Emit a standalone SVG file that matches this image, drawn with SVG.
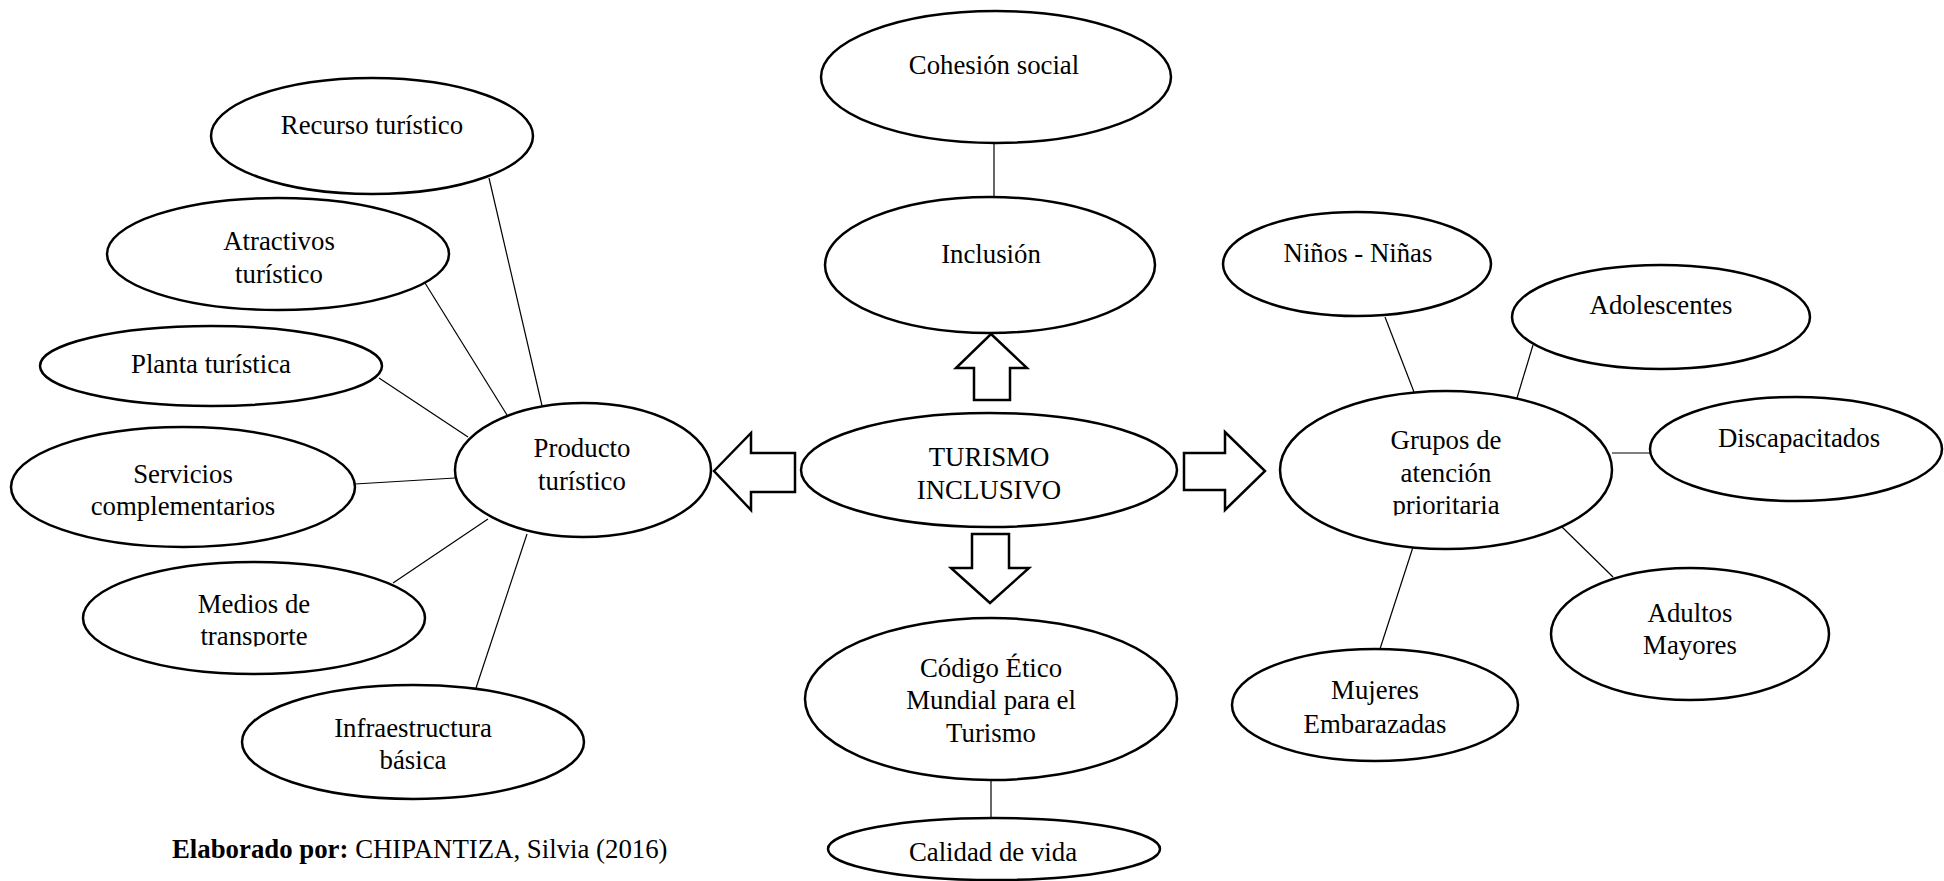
<svg xmlns="http://www.w3.org/2000/svg" width="1944" height="881" viewBox="0 0 1944 881">
<style>
.n{fill:#fff;stroke:#000;stroke-width:2.5}
.c line{stroke:#000;stroke-width:1.2}
.a{fill:#fff;stroke:#000;stroke-width:2.5;stroke-linejoin:miter}
text{font-family:"Liberation Serif","Times New Roman",serif;font-size:26.8px;fill:#000;text-anchor:middle}
.cap{text-anchor:start}
</style>
<defs>
<clipPath id="clipMedios"><rect x="80" y="560" width="350" height="86.5"/></clipPath>
<clipPath id="clipGrupos"><rect x="1280" y="390" width="335" height="125.5"/></clipPath>
</defs>
<rect width="1944" height="881" fill="#fff"/>
<g id="connectors" class="c">
<line x1="489" y1="178" x2="543" y2="410"/>
<line x1="425" y1="283" x2="507" y2="415"/>
<line x1="379" y1="378" x2="468" y2="437"/>
<line x1="355" y1="484" x2="455" y2="478"/>
<line x1="393" y1="583" x2="488" y2="519"/>
<line x1="476" y1="688" x2="527" y2="534"/>
<line x1="994" y1="143" x2="994" y2="197"/>
<line x1="991" y1="780" x2="991" y2="818"/>
<line x1="1385" y1="317" x2="1414" y2="392"/>
<line x1="1533" y1="345" x2="1517" y2="398"/>
<line x1="1612" y1="453" x2="1650" y2="453"/>
<line x1="1562" y1="527" x2="1613" y2="577"/>
<line x1="1414" y1="544" x2="1379" y2="652"/>
<polygon class="a" points="991,334 1027,368 1010,368 1010,400 974,400 974,368 956,368"/>
<polygon class="a" points="972,534 1009,534 1009,568 1029,568 990,603 951,568 972,568"/>
<polygon class="a" points="714,471 751,433 751,453 795,453 795,492 751,492 751,510"/>
<polygon class="a" points="1184,453 1225,453 1225,432 1265,471 1225,510 1225,490 1184,490"/>
</g>
<g id="recurso"><ellipse class="n" cx="372" cy="136" rx="161" ry="58"/><text x="372" y="134">Recurso turístico</text></g>
<g id="atractivos"><ellipse class="n" cx="278" cy="254" rx="171" ry="56"/><text x="279" y="250">Atractivos</text><text x="279" y="283">turístico</text></g>
<g id="planta"><ellipse class="n" cx="211" cy="366" rx="171" ry="40"/><text x="211" y="373">Planta turística</text></g>
<g id="servicios"><ellipse class="n" cx="183" cy="487" rx="172" ry="60"/><text x="183" y="483">Servicios</text><text x="183" y="515">complementarios</text></g>
<g id="medios"><ellipse class="n" cx="254" cy="618" rx="171" ry="56"/><g clip-path="url(#clipMedios)"><text x="254" y="613">Medios de</text><text x="254" y="645">transporte</text></g></g>
<g id="infraestructura"><ellipse class="n" cx="413" cy="742" rx="171" ry="57"/><text x="413" y="737">Infraestructura</text><text x="413" y="769">básica</text></g>
<g id="producto"><ellipse class="n" cx="583" cy="470" rx="128" ry="67"/><text x="582" y="457">Producto</text><text x="582" y="490">turístico</text></g>
<g id="cohesion"><ellipse class="n" cx="996" cy="77" rx="175" ry="66"/><text x="994" y="74">Cohesión social</text></g>
<g id="inclusion"><ellipse class="n" cx="990" cy="265" rx="165" ry="68"/><text x="991" y="263">Inclusión</text></g>
<g id="turismo"><ellipse class="n" cx="989" cy="470" rx="188" ry="57"/><text x="989" y="466">TURISMO</text><text x="989" y="499">INCLUSIVO</text></g>
<g id="codigo"><ellipse class="n" cx="991" cy="699" rx="186" ry="81"/><text x="991" y="677">Código Ético</text><text x="991" y="709">Mundial para el</text><text x="991" y="742">Turismo</text></g>
<g id="calidad"><ellipse class="n" cx="994" cy="849" rx="166" ry="31"/><text x="993" y="861">Calidad de vida</text></g>
<g id="grupos"><ellipse class="n" cx="1446" cy="470" rx="166" ry="79"/><g clip-path="url(#clipGrupos)"><text x="1446" y="449">Grupos de</text><text x="1446" y="482">atención</text><text x="1446" y="514">prioritaria</text></g></g>
<g id="ninos"><ellipse class="n" cx="1357" cy="264" rx="134" ry="52"/><text x="1358" y="262">Niños - Niñas</text></g>
<g id="adolescentes"><ellipse class="n" cx="1661" cy="317" rx="149" ry="52"/><text x="1661" y="314">Adolescentes</text></g>
<g id="discapacitados"><ellipse class="n" cx="1796" cy="449" rx="146" ry="52"/><text x="1799" y="447">Discapacitados</text></g>
<g id="adultos"><ellipse class="n" cx="1690" cy="634" rx="139" ry="66"/><text x="1690" y="622">Adultos</text><text x="1690" y="654">Mayores</text></g>
<g id="mujeres"><ellipse class="n" cx="1375" cy="705" rx="143" ry="56"/><text x="1375" y="699">Mujeres</text><text x="1375" y="733">Embarazadas</text></g>
<text class="cap" x="172" y="858"><tspan font-weight="bold">Elaborado por:</tspan> CHIPANTIZA, Silvia (2016)</text>
</svg>
